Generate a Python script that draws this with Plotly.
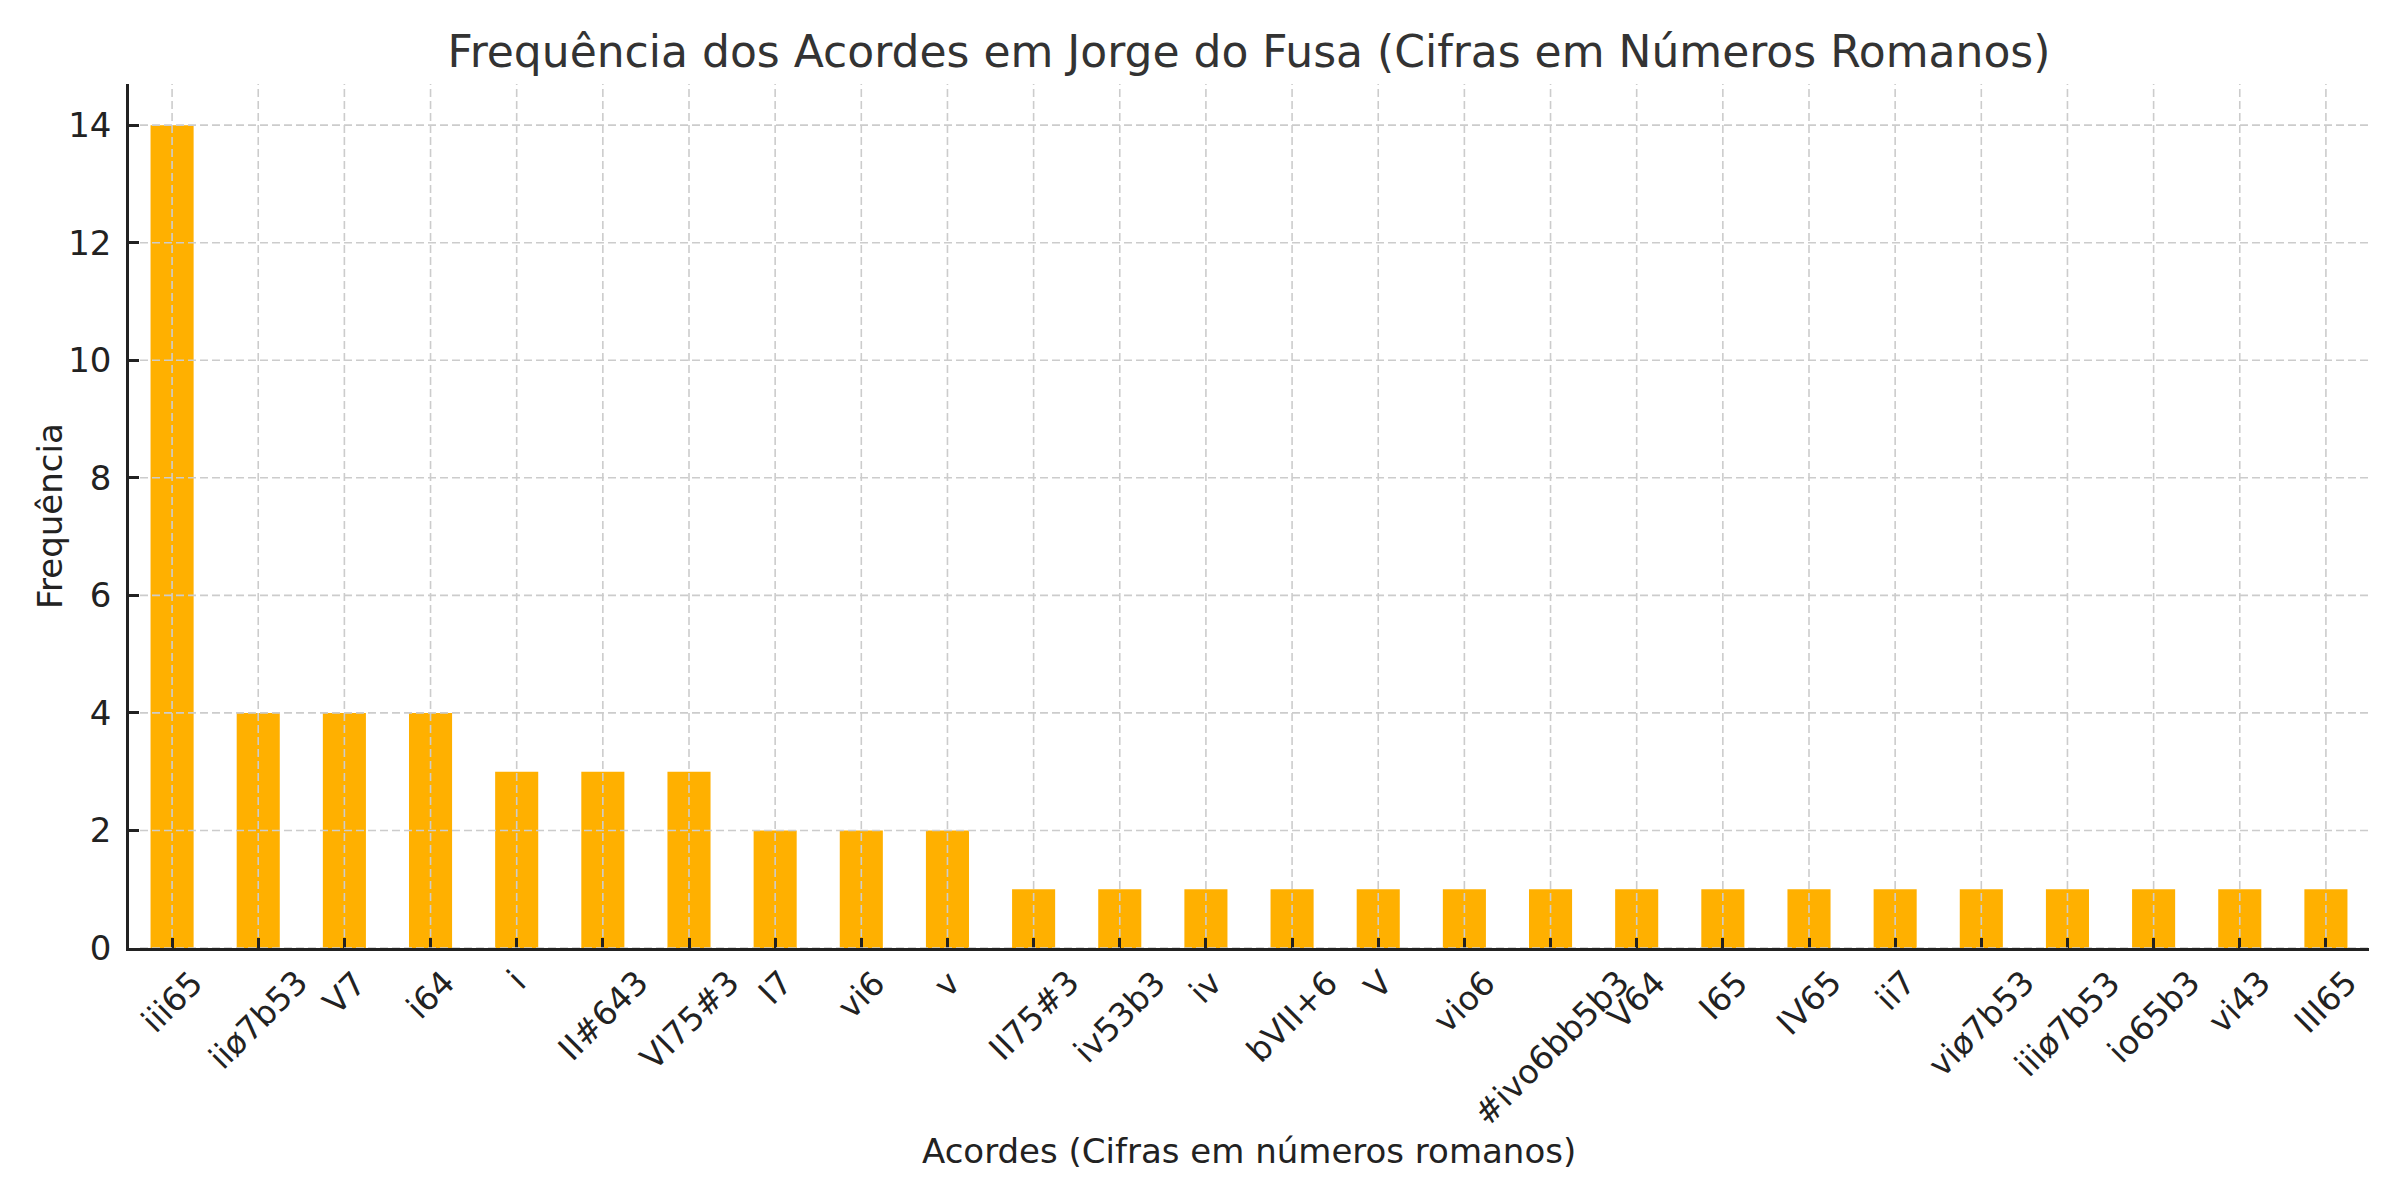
import plotly.graph_objects as go

acordes = ["iii65", "iiø7b53", "V7", "i64", "i", "II#643", "VI75#3", "I7", "vi6", "v",
           "II75#3", "iv53b3", "iv", "bVII+6", "V", "vio6", "#ivo6bb5b3", "V64", "I65",
           "IV65", "ii7", "viø7b53", "iiiø7b53", "io65b3", "vi43", "III65"]
frequencias = [14, 4, 4, 4, 3, 3, 3, 2, 2, 2,
               1, 1, 1, 1, 1, 1, 1, 1, 1,
               1, 1, 1, 1, 1, 1, 1]
y_ticks = [0, 2, 4, 6, 8, 10, 12, 14]

titulo = "Frequência dos Acordes em Jorge do Fusa (Cifras em Números Romanos)"
xlabel = "Acordes (Cifras em números romanos)"
ylabel = "Frequência"

FONT = "DejaVu Sans"
BAR = "#FFB000"
GRID = "#cccccc"
AX = "#222222"

# page body offset (default 8px body margin)
OFF = 8
PL, PR, PT, PB = 129, 2369, 84, 948  # desired plot area in page pixels
TICKLEN = 10

x_idx = list(range(len(acordes)))

fig = go.Figure(go.Bar(x=x_idx, y=frequencias, width=0.5,
                       marker=dict(color=BAR, line=dict(width=0))))

# grid lines drawn above the bars (as in the reference), leaving the tick marks visible
gx0 = (TICKLEN + 1) / (PR - PL)
gy0 = (TICKLEN + 1) / (PB - PT)
shapes = []
for i in x_idx:
    shapes.append(dict(type="line", xref="x", yref="paper", x0=i, x1=i, y0=gy0, y1=1,
                       line=dict(color=GRID, width=1.6, dash="8px,4px"), layer="above"))
for v in y_ticks:
    shapes.append(dict(type="line", xref="paper", yref="y", x0=gx0, x1=1, y0=v, y1=v,
                       line=dict(color=GRID, width=1.6, dash="8px,4px"), layer="above"))

annotations = []
for i, lab in zip(x_idx, acordes):
    annotations.append(dict(x=i, xref="x", y=0, yref="paper", text=lab, showarrow=False,
                            textangle=-45, xanchor="center", yanchor="top", yshift=-12,
                            font=dict(family=FONT, size=33, color=AX)))
annotations.append(dict(x=0.5, xref="paper", y=-(1151 - PB) / (PB - PT), yref="paper", text=xlabel,
                        showarrow=False, xanchor="center", yanchor="middle",
                        font=dict(family=FONT, size=34, color=AX)))
annotations.append(dict(x=-(PL - 50) / (PR - PL), xref="paper", y=0.5, yref="paper", text=ylabel,
                        showarrow=False, textangle=-90, xanchor="center", yanchor="middle",
                        font=dict(family=FONT, size=34, color=AX)))

fig.update_layout(
    width=2400, height=1200,
    margin=dict(l=PL - OFF, r=2400 + OFF - PR, t=PT - OFF, b=1200 + OFF - PB),
    paper_bgcolor="white", plot_bgcolor="white",
    showlegend=False,
    font=dict(family=FONT, color=AX),
    title=dict(text=titulo, x=((PL + PR) / 2 - OFF) / 2400, xanchor="center",
               y=1 - (52 - OFF) / 1200, yanchor="middle",
               font=dict(family=FONT, size=44, color="#333333")),
    shapes=shapes,
    annotations=annotations,
)

fig.update_xaxes(range=[-0.5, len(acordes) - 0.5], tickvals=x_idx, showticklabels=False,
                 ticks="inside", ticklen=TICKLEN, tickwidth=2.5, tickcolor=AX,
                 showline=True, linecolor=AX, linewidth=2.5, showgrid=False, zeroline=False,
                 layer="above traces")
fig.update_yaxes(range=[0, 14.7], tickvals=y_ticks, ticks="inside", ticklen=TICKLEN, tickwidth=2.5,
                 tickcolor=AX, showline=True, linecolor=AX, linewidth=2.5, showgrid=False,
                 zeroline=False, tickfont=dict(family=FONT, size=34, color=AX),
                 ticklabelstandoff=8, layer="above traces")

fig.write_html("out.html")
